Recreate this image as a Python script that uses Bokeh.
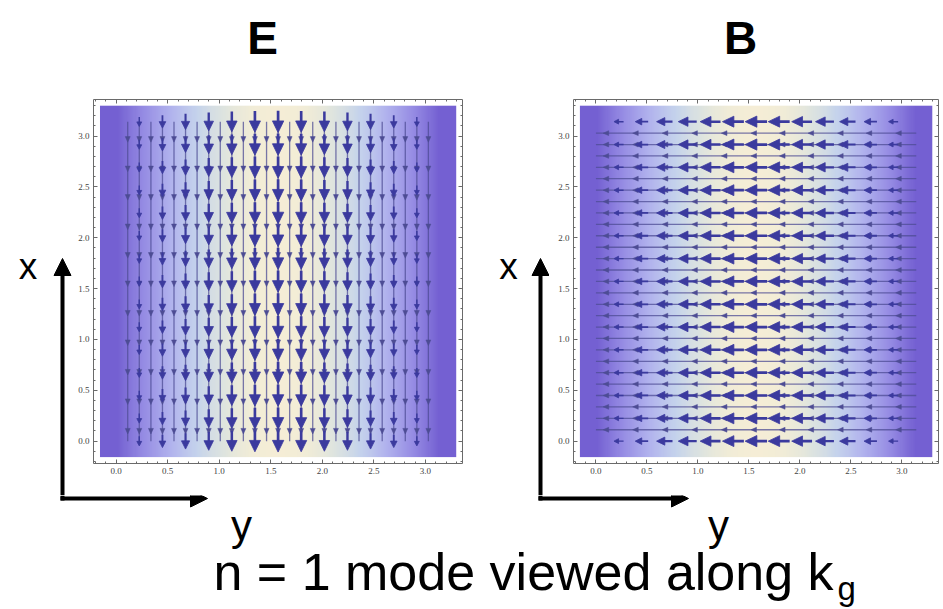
import numpy as np
from bokeh.plotting import figure
from bokeh.models import (Range1d, LinearAxis, FixedTicker, PrintfTickFormatter,
                          Label, Arrow, NormalHead, ColumnDataSource)
from bokeh.layouts import row, column
from bokeh.embed import file_html
from bokeh.resources import INLINE

# ---------------- data ----------------
panel_titles = ["E", "B"]
panel_directions = ["down", "left"]
axis_names = ["x", "y"]
caption_text = "n = 1 mode viewed along k"
caption_sub = "g"

# vector grid (15 x 15) and field magnitude across the horizontal coordinate
grid_pos = [0.000, 0.224, 0.449, 0.673, 0.898, 1.122, 1.346, 1.571,
            1.795, 2.020, 2.244, 2.468, 2.693, 2.917, 3.142]
field_strength = [0.00, 0.22, 0.43, 0.62, 0.78, 0.90, 0.97, 1.00,
                  0.97, 0.90, 0.78, 0.62, 0.43, 0.22, 0.00]

# thin stream lines and the small heads drawn along them
stream_pos = [0.112, 0.224, 0.337, 0.449, 0.561, 0.673, 0.785, 0.898, 1.010,
              1.122, 1.234, 1.346, 1.459, 1.571, 1.683, 1.795, 1.907, 2.020,
              2.132, 2.244, 2.356, 2.468, 2.581, 2.693, 2.805, 2.917, 3.029]
stream_head_pos = [0.07, 0.36, 0.65, 0.94, 1.23, 1.52, 1.80, 2.08, 2.37, 2.65, 2.94]

tick_values = [0.0, 0.5, 1.0, 1.5, 2.0, 2.5, 3.0]
tick_labels = ["0.0", "0.5", "1.0", "1.5", "2.0", "2.5", "3.0"]
minor_tick_values = [-0.2, -0.1, 0.1, 0.2, 0.3, 0.4, 0.6, 0.7, 0.8, 0.9, 1.1, 1.2,
                     1.3, 1.4, 1.6, 1.7, 1.8, 1.9, 2.1, 2.2, 2.3, 2.4, 2.6, 2.7,
                     2.8, 2.9, 3.1, 3.2, 3.3]

# density colour scale (magnitude -> colour)
density_levels = [0.0, 0.25, 0.5, 0.7, 0.85, 0.95, 1.0]
density_colors = [(116, 96, 210), (150, 140, 228), (178, 180, 238), (198, 212, 236),
                  (222, 228, 224), (240, 236, 216), (246, 238, 214)]

# ---------------- styling / layout ----------------
FRAME = (-0.22, 3.36)
BG = (-0.157, 3.299)
ARROW_COLOR = "#3b3a9e"
STREAM_COLOR = "#4d4c94"
AXIS_COLOR = "#6a6a6a"
SANS = "Liberation Sans"
SERIF = "Liberation Serif"

TOTAL_W = 942
TITLE_H = 88
ROW_H = 407
BOTTOM_H = 112


def no_frame_align(p):
    try:
        p.frame_align = False
    except AttributeError:
        pass


def deco_figure(w, h):
    p = figure(width=w, height=h, x_range=Range1d(0, w), y_range=Range1d(0, h),
               output_backend="svg", toolbar_location=None, title_location=None,
               x_axis_location=None, y_axis_location=None, min_border=0)
    p.xgrid.grid_line_color = None
    p.ygrid.grid_line_color = None
    p.outline_line_color = None
    p.background_fill_color = "white"
    p.border_fill_color = "white"
    no_frame_align(p)
    return p


def density_image():
    n = 320
    pos = np.linspace(BG[0], BG[1], n)
    mag = np.interp(pos, grid_pos, field_strength, left=0.0, right=0.0)
    img = np.zeros((1, n), dtype=np.uint32)
    view = img.view(dtype=np.uint8).reshape((1, n, 4))
    for c in range(3):
        view[0, :, c] = np.interp(mag, density_levels,
                                  [col[c] for col in density_colors]).astype(np.uint8)
    view[0, :, 3] = 255
    return img


def thick_arrows(direction):
    x0, y0, x1, y1, lw, hx, hy = [], [], [], [], [], [], []
    for gk, s in zip(grid_pos, field_strength):
        if s <= 0:
            continue
        L = 0.06 + 0.155 * s
        hl = 0.025 + 0.09 * s
        hw = 0.015 + 0.04 * s
        w = 1.1 + 1.6 * s
        for gj in grid_pos:
            if direction == "down":
                tip = gj - L / 2
                x0.append(gk); y0.append(tip + L); x1.append(gk); y1.append(tip + 0.6 * hl)
                hx.append([gk - hw, gk + hw, gk]); hy.append([tip + hl, tip + hl, tip])
            else:
                tip = gk - L / 2
                x0.append(tip + L); y0.append(gj); x1.append(tip + 0.6 * hl); y1.append(gj)
                hx.append([tip + hl, tip + hl, tip]); hy.append([gj - hw, gj + hw, gj])
            lw.append(w)
    return dict(x0=x0, y0=y0, x1=x1, y1=y1, lw=lw), dict(xs=hx, ys=hy)


def streams(direction):
    x0, y0, x1, y1, hx, hy = [], [], [], [], [], []
    hl, hw = 0.055, 0.024
    for sp in stream_pos:
        if direction == "down":
            x0.append(sp); y0.append(grid_pos[-1]); x1.append(sp); y1.append(grid_pos[0])
        else:
            x0.append(grid_pos[-1]); y0.append(sp); x1.append(grid_pos[0]); y1.append(sp)
        for h in stream_head_pos:
            if direction == "down":
                hx.append([sp - hw, sp + hw, sp]); hy.append([h + hl, h + hl, h])
            else:
                hx.append([h + hl, h + hl, h]); hy.append([sp - hw, sp + hw, sp])
    return dict(x0=x0, y0=y0, x1=x1, y1=y1), dict(xs=hx, ys=hy)


def field_figure(width, mb_left, mb_right, direction):
    p = figure(width=width, height=ROW_H, x_range=Range1d(*FRAME), y_range=Range1d(*FRAME),
               output_backend="svg", toolbar_location=None, title_location=None,
               x_axis_location=None, y_axis_location=None,
               min_border_left=mb_left, min_border_right=mb_right,
               min_border_top=11, min_border_bottom=32)
    p.xgrid.grid_line_color = None
    p.ygrid.grid_line_color = None
    p.outline_line_color = None
    p.background_fill_color = "white"
    p.border_fill_color = "white"
    no_frame_align(p)
    for loc in ("below", "left", "above", "right"):
        labelled = loc in ("below", "left")
        if labelled:
            overrides = dict(zip(tick_values, tick_labels))
        else:
            overrides = {t: "" for t in tick_values}
        ax = LinearAxis(ticker=FixedTicker(ticks=tick_values, minor_ticks=minor_tick_values),
                        formatter=PrintfTickFormatter(format="%.1f"),
                        major_label_overrides=overrides)
        ax.axis_line_color = AXIS_COLOR
        ax.major_tick_line_color = AXIS_COLOR
        ax.minor_tick_line_color = AXIS_COLOR
        ax.major_tick_in = 4
        ax.major_tick_out = 0
        ax.minor_tick_in = 2
        ax.minor_tick_out = 0
        ax.major_label_text_font = SERIF
        ax.major_label_text_color = "#444444"
        ax.major_label_text_font_size = "9px"
        ax.major_label_standoff = 4 if labelled else 0
        p.add_layout(ax, loc)

    p.image_rgba(image=[density_image()], x=BG[0], y=BG[0],
                 dw=BG[1] - BG[0], dh=BG[1] - BG[0])

    s_seg, s_head = streams(direction)
    p.segment(x0="x0", y0="y0", x1="x1", y1="y1", source=ColumnDataSource(s_seg),
              line_color=STREAM_COLOR, line_alpha=0.75, line_width=1.3)
    p.patches(xs="xs", ys="ys", source=ColumnDataSource(s_head),
              fill_color=STREAM_COLOR, line_color=STREAM_COLOR, line_width=0.5)

    a_seg, a_head = thick_arrows(direction)
    p.segment(x0="x0", y0="y0", x1="x1", y1="y1", source=ColumnDataSource(a_seg),
              line_color=ARROW_COLOR, line_width="lw")
    p.patches(xs="xs", ys="ys", source=ColumnDataSource(a_head),
              fill_color=ARROW_COLOR, line_color=ARROW_COLOR, line_width=0.8)
    return p


def big_arrow(x0, y0, x1, y1):
    return Arrow(x_start=x0, y_start=y0, x_end=x1, y_end=y1,
                 line_width=4, line_color="black",
                 end=NormalHead(size=17, fill_color="black", line_color="black", line_width=1))


def text_label(x, y, txt, size, align="center", bold=False):
    return Label(x=x, y=y, text=txt, text_font=SANS, text_font_size=size,
                 text_font_style="bold" if bold else "normal", text_align=align,
                 text_baseline="alphabetic", text_color="black")


# ---------------- top row: titles ----------------
title_fig = deco_figure(TOTAL_W, TITLE_H)
for txt, cx in zip(panel_titles, [262, 740]):
    title_fig.add_layout(text_label(cx, 51, txt, "46px", bold=True))

# ---------------- middle row ----------------
left_deco = deco_figure(72, ROW_H)
left_deco.add_layout(text_label(27.5, 229, axis_names[0], "37px"))
left_deco.add_layout(big_arrow(62, 0, 62, 237))

fig_e = field_figure(398, 21, 8, panel_directions[0])

mid_deco = deco_figure(79, ROW_H)
mid_deco.add_layout(text_label(38, 229, axis_names[0], "37px"))
mid_deco.add_layout(big_arrow(70, 0, 70, 237))

fig_b = field_figure(TOTAL_W - 549, 24, 4, panel_directions[1])

# ---------------- bottom row ----------------
bottom = deco_figure(TOTAL_W, BOTTOM_H)
bottom.segment(x0=[62, 540], y0=[BOTTOM_H, BOTTOM_H], x1=[62, 540], y1=[107, 107],
               line_width=4, line_color="black")
bottom.add_layout(big_arrow(60, 109, 207, 109))
bottom.add_layout(big_arrow(538, 109, 688, 109))
for cx in [241, 718]:
    bottom.add_layout(text_label(cx, 82, axis_names[1], "42px"))
bottom.add_layout(text_label(213, 36, caption_text, "52px", align="left"))
bottom.add_layout(text_label(837, 19, caption_sub, "33px", align="left"))

layout = column(title_fig, row(left_deco, fig_e, mid_deco, fig_b), bottom)

open("out.html", "w").write(file_html(layout, INLINE))
